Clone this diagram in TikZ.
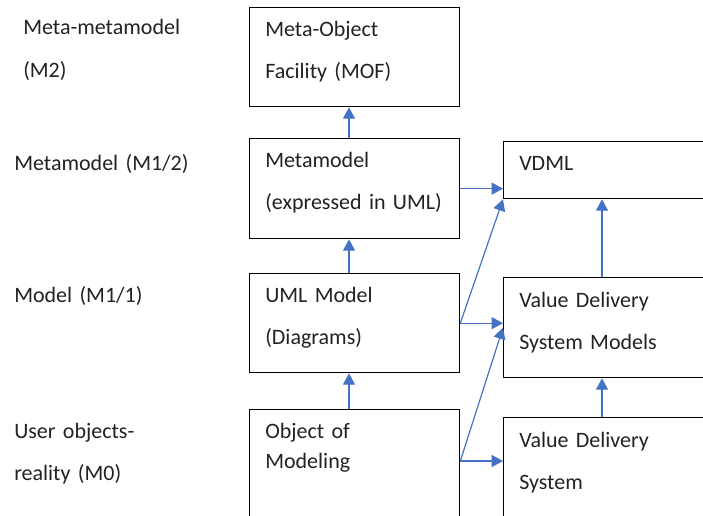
\documentclass[tikz,border=0pt]{standalone}
\usepackage{fontspec}
\setmainfont{Carlito}
\usetikzlibrary{arrows.meta,calc}
\definecolor{linkblue}{HTML}{4472C4}
\definecolor{ink}{HTML}{222222}

\tikzset{
  box/.style={draw, line width=1pt, anchor=north west, inner sep=0pt},
  boxtext/.style={anchor=base west, inner sep=0pt, text width=150pt, align=left,
    text=ink, font=\fontsize{16.5}{31.5}\selectfont},
  level/.style={anchor=base west, inner sep=0pt, text width=170pt, align=left,
    text=ink, font=\fontsize{16.5}{31.5}\selectfont},
  link/.style={draw=linkblue, line width=0.9pt, -{Triangle[length=8.5pt,width=9pt]}}
}

\begin{document}
\begin{tikzpicture}[x=0.75pt, y=-0.75pt]
        \useasboundingbox (0,0) rectangle (703,515);
        % levels on the left
        \node[level] (lm2) at (23,34) {Meta-metamodel\\[0.75pt](M2)};
        \node[level] (lm12) at (14,170) {Metamodel (M1/2)};
        \node[level] (lm11) at (14,302) {Model (M1/1)};
        \node[level] (lm0) at (14,438) {User objects-\\reality (M0)};
        % boxes
        \node[box, minimum width=157.5pt, minimum height=74.25pt] (mof) at (249,7) {};
        \node[box, minimum width=157.5pt, minimum height=75pt] (mm) at (249,138) {};
        \node[box, minimum width=157.5pt, minimum height=74.25pt] (uml) at (249,273) {};
        \node[box, minimum width=157.5pt, minimum height=86.25pt] (obj) at (249,409) {};
        \node[box, minimum width=151.5pt, minimum height=42.75pt] (vdml) at (503,141) {};
        \node[box, minimum width=151.5pt, minimum height=75pt] (vdsm) at (503,277) {};
        \node[box, minimum width=151.5pt, minimum height=82.5pt] (vds) at (503,417) {};
        % texts in the boxes
        \node[boxtext] (tmof) at ($(mof.north west)+(16,29)$) {Meta-Object\\Facility (MOF)};
        \node[boxtext] (tmm) at ($(mm.north west)+(16,29)$) {Metamodel\\(expressed in UML)};
        \node[boxtext] (tuml) at ($(uml.north west)+(16,29)$) {UML Model\\(Diagrams)};
        \node[boxtext, font=\fontsize{16.5}{22.5}\selectfont] (tobj) at ($(obj.north west)+(16,29)$) {Object of\\Modeling};
        \node[boxtext] (tvdml) at ($(vdml.north west)+(16,29)$) {VDML};
        \node[boxtext] (tvdsm) at ($(vdsm.north west)+(16,30)$) {Value Delivery\\System Models};
        \node[boxtext] (tvds) at ($(vds.north west)+(16,30)$) {Value Delivery\\System};
        % arrows
        \coordinate (cx) at (349,0);
        \coordinate (rx) at (602,0);
        \coordinate (objout) at ($(obj.north east)+(0,52)$);
        \draw[link] (mm.north -| cx) -- (mof.south -| cx);
        \draw[link] (uml.north -| cx) -- (mm.south -| cx);
        \draw[link] (obj.north -| cx) -- (uml.south -| cx);
        \draw[link] (vdsm.north -| rx) -- (vdml.south -| rx);
        \draw[link] (vds.north -| rx) -- (vdsm.south -| rx);
        \draw[link] (mm.east) -- (mm.east -| vdml.west);
        \draw[link] (uml.east) -- (uml.east -| vdsm.west);
        \draw[link] (uml.east) -- (vdml.south west);
        \draw[link] (objout) -- (objout -| vds.west);
        \draw[link] (objout) -- (vdsm.west);
    \end{tikzpicture}
\end{document}
